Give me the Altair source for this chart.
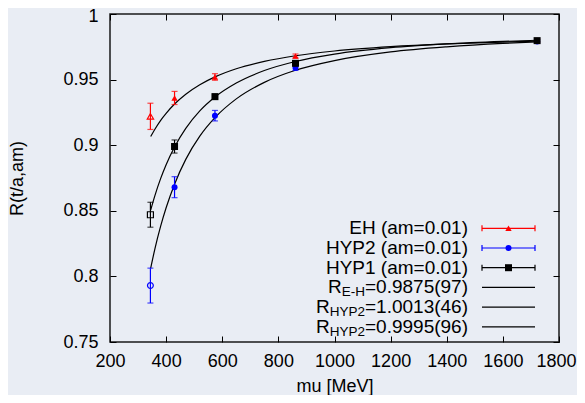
import altair as alt
import pandas as pd

# ---------------- data ----------------
mu = [344, 430, 574, 861, 1722]
eh_r = [0.922, 0.936, 0.952, 0.968, 0.980]
eh_err = [0.010, 0.005, 0.0025, 0.0015, 0.001]
hyp2_r = [0.793, 0.868, 0.9225, 0.959, 0.979]
hyp2_err = [0.0133, 0.008, 0.004, 0.002, 0.001]
hyp1_r = [0.847, 0.899, 0.937, 0.9624, 0.9797]
hyp1_err = [0.0095, 0.005, 0.002, 0.0015, 0.001]

fit_mu = [345, 360, 380, 400, 430, 470, 520, 574, 650, 750, 861, 1000, 1200, 1400, 1600, 1722]
fit_eh = [0.9066, 0.9122, 0.9188, 0.9243, 0.9314, 0.9389, 0.9461, 0.9521, 0.9583, 0.9639,
          0.9682, 0.9718, 0.9751, 0.9772, 0.9786, 0.9793]
fit_hyp1 = [0.8506, 0.8616, 0.8743, 0.8851, 0.8986, 0.9128, 0.9261, 0.9367, 0.9474, 0.9569,
            0.9638, 0.9694, 0.9743, 0.9772, 0.9791, 0.9800]
fit_hyp2 = [0.8063, 0.8210, 0.8379, 0.8523, 0.8703, 0.8892, 0.9069, 0.9210, 0.9353, 0.9479,
            0.9571, 0.9645, 0.9711, 0.9750, 0.9776, 0.9787]

x_ticks = [200, 400, 600, 800, 1000, 1200, 1400, 1600, 1800]
y_ticks = [0.75, 0.8, 0.85, 0.9, 0.95, 1.0]

series_names = ["EH", "HYP2", "HYP1"]
series_labels = ["EH (am=0.01)", "HYP2 (am=0.01)", "HYP1 (am=0.01)"]
fit_labels = [("E-H", "=0.9875(97)"), ("HYP2", "=1.0013(46)"), ("HYP2", "=0.9995(96)")]

# ---------------- styling ----------------
W, H = 449, 328
FONT = "Liberation Sans"
BG = "#e9edf4"
colors = ["#ff0000", "#0000ff", "#000000"]
shapes = ["triangle-up", "circle", "square"]
sizes_filled = [40, 36, 49]
sizes_open = [40, 34, 36]

xs = alt.Scale(domain=[200, 1800], nice=False, zero=False)
ys = alt.Scale(domain=[0.75, 1.0], nice=False, zero=False)

rows = []
for name, r, e in zip(series_names, [eh_r, hyp2_r, hyp1_r], [eh_err, hyp2_err, hyp1_err]):
    for i, (m, v, d) in enumerate(zip(mu, r, e)):
        rows.append(dict(series=name, mu=m, R=v, lo=v - d, hi=v + d, fitted=i > 0))
pts = pd.DataFrame(rows)

frows = []
for name, vals in zip(["EH", "HYP1", "HYP2"], [fit_eh, fit_hyp1, fit_hyp2]):
    for m, v in zip(fit_mu, vals):
        frows.append(dict(fit=name, mu=m, R=v))
fits = pd.DataFrame(frows)

X_AX = alt.Axis(orient="bottom", values=x_ticks, format="d", tickSize=6, offset=-6, domain=False,
                grid=False, labelPadding=10, labelOverlap=False, labelFlush=False,
                labelOffset={"condition": {"test": "datum.value >= 1800", "value": -3}, "value": 0},
                title="mu [MeV]", titlePadding=7)
Y_AX = alt.Axis(orient="left", values=y_ticks, format="~g", tickSize=6, offset=-6, domain=False,
                grid=False, labelPadding=12, labelOverlap=False, labelFlush=False,
                labelOffset={"condition": {"test": "datum.value >= 1", "value": 2}, "value": 0},
                title="R(t/a,am)", titlePadding=36)

layers = []
curves = alt.Chart(fits).mark_line(color="black", strokeWidth=1.2, interpolate="monotone").encode(
    x=alt.X("mu:Q", scale=xs, axis=X_AX),
    y=alt.Y("R:Q", scale=ys, axis=Y_AX),
    detail="fit:N",
)
layers.append(curves)

for k, name in enumerate(series_names):
    sub = pts[pts.series == name]
    c = colors[k]
    bars = alt.Chart(sub).mark_rule(color=c, strokeWidth=1.2).encode(
        x=alt.X("mu:Q", scale=xs, axis=None),
        y=alt.Y("lo:Q", scale=ys, axis=None),
        y2="hi:Q",
    )
    cap_lo = alt.Chart(sub).mark_tick(orient="horizontal", size=6, thickness=1.2, color=c).encode(
        x=alt.X("mu:Q", scale=xs, axis=None), y=alt.Y("lo:Q", scale=ys, axis=None))
    cap_hi = alt.Chart(sub).mark_tick(orient="horizontal", size=6, thickness=1.2, color=c).encode(
        x=alt.X("mu:Q", scale=xs, axis=None), y=alt.Y("hi:Q", scale=ys, axis=None))
    filled = alt.Chart(sub[sub.fitted]).mark_point(
        shape=shapes[k], filled=True, size=sizes_filled[k], color=c, opacity=1).encode(
        x=alt.X("mu:Q", scale=xs, axis=None), y=alt.Y("R:Q", scale=ys, axis=None))
    hollow = alt.Chart(sub[~sub.fitted]).mark_point(
        shape=shapes[k], filled=False, size=sizes_open[k], color=c, strokeWidth=1.2, opacity=1).encode(
        x=alt.X("mu:Q", scale=xs, axis=None), y=alt.Y("R:Q", scale=ys, axis=None))
    layers += [bars, cap_lo, cap_hi, filled, hollow]

mirror = alt.Chart(pts).mark_point(opacity=0).encode(
    x=alt.X("mu:Q", scale=xs, axis=alt.Axis(orient="top", values=x_ticks, tickSize=6, offset=-6,
                                              labels=False, domain=False, grid=False, title="")),
    y=alt.Y("R:Q", scale=ys, axis=alt.Axis(orient="right", values=y_ticks, tickSize=6, offset=-6,
                                             labels=False, domain=False, grid=False, title="")),
)
layers.append(mirror)

# ---------------- legend (plot-relative pixels) ----------------
LX_TEXT, LX0, LX1 = 358, 372, 425
LXM = (LX0 + LX1) / 2
LY0, LSTEP = 214.3, 19.7
FS_LEG, FS_SUB = 19, 13.5
one = alt.Chart(pd.DataFrame({"k": [0]}))

AW = {'=': 0.584, '.': 0.278, '(': 0.333, ')': 0.333, 'E': 0.667, '-': 0.333, 'H': 0.722,
      'Y': 0.667, 'P': 0.667, 'R': 0.722}


def tw(s, fs):
    return sum(AW.get(ch, 0.556) for ch in s) * fs


for k, label in enumerate(series_labels):
    y = LY0 + k * LSTEP
    c = colors[k]
    layers.append(one.mark_rule(color=c, strokeWidth=1.2).encode(
        x=alt.value(LX0), x2=alt.value(LX1), y=alt.value(y)))
    for xx in (LX0, LX1):
        layers.append(one.mark_rule(color=c, strokeWidth=1.2).encode(
            x=alt.value(xx), y=alt.value(y - 3), y2=alt.value(y + 3)))
    layers.append(one.mark_point(shape=shapes[k], filled=True, size=sizes_filled[k], color=c,
                                 opacity=1).encode(x=alt.value(LXM), y=alt.value(y)))
    layers.append(one.mark_text(align="right", baseline="middle", font=FONT, fontSize=FS_LEG,
                                color="black").encode(
        x=alt.value(LX_TEXT), y=alt.value(y), text=alt.value(label)))

for j, (sub_t, main_t) in enumerate(fit_labels):
    y = LY0 + (3 + j) * LSTEP
    layers.append(one.mark_rule(color="black", strokeWidth=1.2).encode(
        x=alt.value(LX0), x2=alt.value(LX1), y=alt.value(y)))
    x_main = LX_TEXT
    x_sub = x_main - tw(main_t, FS_LEG)
    x_r = x_sub - tw(sub_t, FS_SUB)
    layers.append(one.mark_text(align="right", baseline="middle", font=FONT, fontSize=FS_LEG,
                                color="black").encode(
        x=alt.value(x_main), y=alt.value(y), text=alt.value(main_t)))
    layers.append(one.mark_text(align="right", baseline="middle", font=FONT, fontSize=FS_SUB,
                                color="black").encode(
        x=alt.value(x_sub), y=alt.value(y + 5), text=alt.value(sub_t)))
    layers.append(one.mark_text(align="right", baseline="middle", font=FONT, fontSize=FS_LEG,
                                color="black").encode(
        x=alt.value(x_r), y=alt.value(y), text=alt.value("R")))

chart = alt.layer(*layers).properties(
    width=W, height=H,
    autosize=alt.AutoSizeParams(type="none"),
    padding={"left": 102, "top": 6, "right": 18, "bottom": 53},
    background=BG,
).configure_view(
    stroke="#1a1a1a", strokeWidth=1.5
).configure_axis(
    labelFont=FONT, titleFont=FONT, labelFontSize=18, titleFontSize=18,
    labelColor="black", titleColor="black", tickColor="black", tickWidth=1,
    titleFontWeight="normal",
)

chart.save("out.html", embed_options={"renderer": "svg", "actions": False})
